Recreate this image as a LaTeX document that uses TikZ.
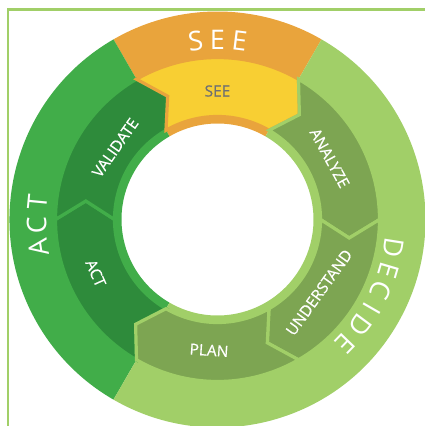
\documentclass[tikz,border=0pt]{standalone}
\usepackage{fontspec}
\setmainfont{Open Sans}
\newfontfamily\labfont[FakeBold=0.5]{Open Sans}
\definecolor{cOrange}{HTML}{E9A43C}
\definecolor{cYellow}{HTML}{F8CF33}
\definecolor{cMid}{HTML}{41AD49}
\definecolor{cDark}{HTML}{2E8B3B}
\definecolor{cLight}{HTML}{A1CF68}
\definecolor{cOlive}{HTML}{7DA552}
\definecolor{cGray}{HTML}{6F7072}
\newcommand\ringsector[3]{\fill[#3] (#1:96) -- (#1:208) arc[start angle=#1,end angle=#2,radius=208] -- (#2:96) arc[start angle=#2,end angle=#1,radius=96] -- cycle;}
\newcommand\segpath[1]{(#1:103) -- ({#1-8}:133) -- (#1:162) arc[start angle=#1, end angle={#1+60}, radius=162] -- ({#1+52}:133) -- ({#1+60}:103) arc[start angle={#1+60}, end angle=#1, radius=103] -- cycle}
\begin{document}
\begin{tikzpicture}[x=1pt,y=1pt,
  outerlet/.style={text=white, font=\fontsize{27}{27}\selectfont, inner sep=0pt, anchor=center},
  innerlab/.style={text=white, font=\labfont\fontsize{15.5}{15.5}\selectfont, inner sep=0pt, anchor=center},
  segbox/.style={line width=3.2, line join=miter}]
\useasboundingbox (-217.5,-206.5) rectangle (207.5,219.5);
\clip (-217.5,-206.5) rectangle (207.5,219.5);
% frame
\coordinate (fa) at (-209.2,-212);
\coordinate (fb) at (-209.2,210);
\coordinate (fc) at (212,210);
\draw[cLight, line width=2.3] (fa) -- (fb) -- (fc);
% outer ring sectors
\ringsector{60}{120}{cOrange}
\ringsector{120}{240}{cMid}
\ringsector{240}{420}{cLight}
% inner segments
\filldraw[segbox, fill=cDark, draw=cMid] \segpath{180};
\filldraw[segbox, fill=cDark, draw=cMid] \segpath{120};
\filldraw[segbox, fill=cYellow, draw=cOrange] \segpath{60};
\filldraw[segbox, fill=cOlive, draw=cLight] \segpath{0};
\filldraw[segbox, fill=cOlive, draw=cLight] \segpath{-60};
\filldraw[segbox, fill=cOlive, draw=cLight] \segpath{240};
% outer labels
\foreach \l/\a [count=\i] in {S/97,E/90,E/83}
  \node[outerlet, rotate=\a-90] (see\i) at (\a:180) {\l};
\foreach \l/\a [count=\i] in {A/188.8,C/181.8,T/174.5}
  \node[outerlet, rotate=\a-90] (act\i) at (\a:181) {\l};
\foreach \l/\a [count=\i] in {D/-9,E/-16.5,C/-23.5,I/-30,D/-36.5,E/-44}
  \node[outerlet, rotate=\a-90] (dec\i) at (\a:178) {\l};
% inner labels
\node[innerlab, text=cGray] (lsee) at (90:128.5) {SEE};
\node[innerlab, rotate=54.9] (lval) at (144.9:125) {VALIDATE};
\node[innerlab, rotate=-61.3] (lana) at (28.7:128) {ANALYZE};
\node[innerlab, rotate=54.3] (lund) at (-35.7:125) {UNDERSTAND};
\node[innerlab, rotate=-3.7] (lplan) at (266.3:131) {PLAN};
\node[innerlab, rotate=-66.2] (lact) at (203.8:133) {ACT};
\end{tikzpicture}
\end{document}
